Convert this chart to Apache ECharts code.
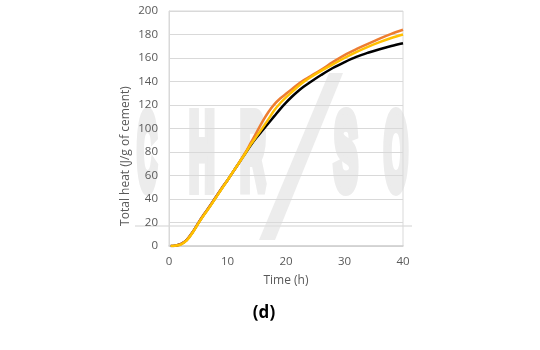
<!DOCTYPE html>
<html>
<head>
<meta charset="utf-8">
<script src="https://cdn.jsdelivr.net/npm/echarts@6/dist/echarts.min.js"></script>
<style>
  html, body { margin: 0; padding: 0; background: #ffffff; }
  #chart { width: 540px; height: 350px; }
</style>
</head>
<body>
<div id="chart"></div>
<script>
// Hydration time (h) at which each cumulative-heat reading was taken
const hours = [0.3, 1, 2, 3, 4, 5, 6, 7, 8, 9, 10, 11, 12, 13, 14, 15, 16, 17, 18, 19, 20,
               21, 22, 23, 24, 26, 28, 30, 32, 34, 36, 38, 40];

// Total heat released (J/g of cement) for the three mixes
const heatBlack = [0, 0.3, 1.5, 5, 11.5, 19.5, 27, 34, 41.5, 49, 56, 63.5, 71, 78.5, 86, 92.5, 98.5, 104.5, 110.5, 116.5, 122,
                   127, 131.5, 135.5, 139, 145.5, 151.5, 156.5, 161, 164.5, 167.5, 170.2, 172.5];
const heatOrange = [0, 0.3, 1.5, 5, 11.5, 19.5, 27, 34, 41.5, 49, 56, 63.5, 71, 79, 88, 97, 106, 114, 120.5, 125.5, 129.5,
                    133.5, 137.5, 141, 144, 150, 156.5, 162.5, 167.5, 172, 176.5, 180.5, 184];
const heatYellow = [0, 0.2, 1.2, 4.5, 11, 19, 26.5, 33.5, 41, 48.5, 56, 63.5, 71, 78.5, 86.5, 93.5, 100.5, 108, 115.5, 121.5, 126.5,
                    131, 135.5, 139.5, 143, 149, 154.5, 160, 165, 169.5, 173.5, 177, 180];

const xTicks = { min: 0, max: 40, step: 10 };
const yTicks = { min: 0, max: 200, step: 20 };

const pairs = (ys) => hours.map((t, i) => [t, ys[i]]);

const chart = echarts.init(document.getElementById('chart'), null, { renderer: 'canvas' });

const axisFont = { color: '#595959', fontSize: 11.5, fontFamily: 'Open Sans' };
const wmColor = '#ececec';

// Faint company watermark behind the plot
function wmLetter(ch, cx, sx) {
  return {
    type: 'text', x: cx, y: 159, scaleX: sx, z: -10, silent: true,
    style: {
      text: ch, fill: wmColor, stroke: wmColor, lineWidth: 14,
      font: 'bold 106px "Liberation Sans"', align: 'center', verticalAlign: 'middle'
    }
  };
}

const lineSeries = (data, color, z) => ({
  type: 'line', data: pairs(data), smooth: 0.35, showSymbol: false,
  lineStyle: { color: color, width: 2.5 }, z: z
});

chart.setOption({
  animation: false,
  backgroundColor: '#ffffff',
  grid: { left: 169, right: 137, top: 11, bottom: 104, show: true, borderColor: '#d9d9d9', borderWidth: 1 },
  xAxis: {
    type: 'value', min: xTicks.min, max: xTicks.max, interval: xTicks.step,
    axisLine: { show: true, lineStyle: { color: '#d0d0d0', width: 1.5 } },
    axisTick: { show: false },
    splitLine: { show: false },
    axisLabel: Object.assign({ margin: 10 }, axisFont)
  },
  yAxis: {
    type: 'value', min: yTicks.min, max: yTicks.max, interval: yTicks.step,
    axisLine: { show: true, lineStyle: { color: '#d9d9d9', width: 1 } },
    axisTick: { show: false },
    splitLine: { show: true, lineStyle: { color: '#d9d9d9', width: 1 } },
    axisLabel: Object.assign({ margin: 11 }, axisFont)
  },
  graphic: [
    wmLetter('C', 147, 0.254),
    wmLetter('H', 202, 0.33),
    wmLetter('R', 253, 0.33),
    wmLetter('S', 346, 0.33),
    wmLetter('O', 396, 0.29),
    {
      type: 'polygon', z: -10, silent: true,
      shape: { points: [[259, 240], [275, 240], [343, 73], [329, 73]] },
      style: { fill: wmColor }
    },
    {
      type: 'line', z: -10, silent: true,
      shape: { x1: 135, y1: 226, x2: 412, y2: 226 },
      style: { stroke: '#e0e0e0', lineWidth: 1.5 }
    },
    {
      type: 'text', x: 126, y: 156, rotation: Math.PI / 2, silent: true,
      style: { text: 'Total heat (J/g of cement)', fill: '#595959', font: '12px "Open Sans"', align: 'center', verticalAlign: 'middle' }
    },
    {
      type: 'text', x: 286, y: 281, silent: true,
      style: { text: 'Time (h)', fill: '#595959', font: '12px "Open Sans"', align: 'center', verticalAlign: 'middle' }
    },
    {
      type: 'text', x: 264, y: 313, silent: true,
      style: { text: '(d)', fill: '#000000', font: 'bold 17px "Open Sans"', align: 'center', verticalAlign: 'middle' }
    }
  ],
  series: [
    lineSeries(heatBlack, '#000000', 2),
    lineSeries(heatOrange, '#ED7D31', 3),
    lineSeries(heatYellow, '#FFC000', 4)
  ]
});
</script>
</body>
</html>
